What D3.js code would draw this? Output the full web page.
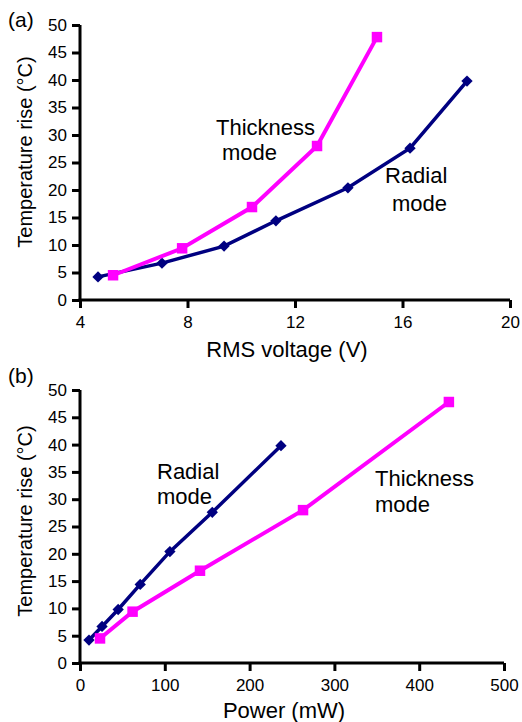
<!DOCTYPE html>
<html>
<head>
<meta charset="utf-8">
<script src="https://cdn.jsdelivr.net/npm/d3@7"></script>
<style>
  body { margin: 0; background: #fff; }
  svg text { font-family: "Liberation Sans", Arial, sans-serif; fill: #000; }
</style>
</head>
<body>
<div id="chart"></div>
<script>
// panel (a): temperature rise vs RMS voltage
const voltRadial = [4.67, 7.05, 9.36, 11.29, 13.97, 16.28, 18.4];
const tempRadial = [4.2, 6.7, 9.8, 14.4, 20.4, 27.6, 39.8];
const voltThick = [5.23, 7.8, 10.4, 12.82, 15.05];
const tempThick = [4.5, 9.4, 16.9, 28.0, 47.8];

// panel (b): temperature rise vs power
const powerRadial = [10.6, 26, 45, 71, 106, 156, 237];
const powerThick = [23.6, 62, 141.5, 263, 435];

const yTicks = [0, 5, 10, 15, 20, 25, 30, 35, 40, 45, 50];
const voltTicks = [4, 8, 12, 16, 20];
const powerTicks = [0, 100, 200, 300, 400, 500];

const navy = '#000080';
const magenta = '#ff00ff';

const svg = d3.select('#chart')
  .append('svg')
  .attr('width', 522)
  .attr('height', 722);

function panel(opts) {
  const x = d3.scaleLinear().domain(opts.xDomain).range([80, opts.xRight]);
  const y = d3.scaleLinear().domain([0, 50]).range([opts.yBottom, opts.yTop]);
  const g = svg.append('g');

  // axes
  const yAxis = g.append('g')
    .attr('transform', 'translate(80,0)')
    .call(d3.axisLeft(y).tickValues(yTicks).tickSize(8).tickPadding(5).tickSizeOuter(0));
  const xAxis = g.append('g')
    .attr('transform', `translate(0,${opts.yBottom})`)
    .call(d3.axisBottom(x).tickValues(opts.xTicks).tickSize(8).tickPadding(8).tickSizeOuter(0));
  [yAxis, xAxis].forEach(a => {
    a.select('.domain').attr('stroke', '#000').attr('stroke-width', 3);
    a.selectAll('.tick line').attr('stroke', '#000').attr('stroke-width', 3);
    a.selectAll('.tick text').style('font-size', '17px').attr('fill', '#000');
  });
  // extend axis lines so they meet at the corner
  yAxis.select('.domain').attr('d', `M0,${opts.yBottom + 1.5}V${opts.yTop}`);
  xAxis.select('.domain').attr('d', `M${80 - 1.5},0H${opts.xRight}`);

  const line = d3.line().x(d => x(d[0])).y(d => y(d[1]));

  opts.series.forEach(s => {
    const pts = s.xs.map((v, i) => [v, s.ys[i]]);
    g.append('path')
      .datum(pts)
      .attr('fill', 'none')
      .attr('stroke', s.color)
      .attr('stroke-width', s.width)
      .attr('d', line);
    g.selectAll(null)
      .data(pts)
      .enter().append('path')
      .attr('fill', s.color)
      .attr('d', d3.symbol().type(d3.symbolSquare).size(s.size))
      .attr('transform', d => `translate(${x(d[0])},${y(d[1])}) rotate(${s.rot})`);
  });

  // axis titles
  g.append('text')
    .attr('x', opts.xTitleX)
    .attr('y', opts.xTitleY)
    .attr('text-anchor', 'middle')
    .style('font-size', '22px')
    .text(opts.xTitle);
  g.append('text')
    .attr('transform', `translate(32,${opts.yTitleY}) rotate(-90)`)
    .attr('text-anchor', 'middle')
    .style('font-size', '20px')
    .text('Temperature rise (°C)');

  // panel letter
  g.append('text')
    .attr('x', 8)
    .attr('y', opts.letterY)
    .style('font-size', '21px')
    .text(opts.letter);

  // curve labels
  opts.labels.forEach(l => {
    g.append('text')
      .attr('x', l.x)
      .attr('y', l.y)
      .style('font-size', '22px')
      .text(l.text);
  });
}

panel({
  xDomain: [4, 20], xRight: 510, yTop: 25, yBottom: 300,
  xTicks: voltTicks, xTitle: 'RMS voltage (V)', xTitleX: 287, xTitleY: 357,
  yTitleY: 152, letter: '(a)', letterY: 27,
  series: [
    { xs: voltRadial, ys: tempRadial, color: navy, width: 3.5, size: 64, rot: 45 },
    { xs: voltThick, ys: tempThick, color: magenta, width: 4, size: 110, rot: 0 }
  ],
  labels: [
    { text: 'Thickness', x: 216, y: 135 },
    { text: 'mode', x: 222, y: 160 },
    { text: 'Radial', x: 385, y: 183 },
    { text: 'mode', x: 392, y: 211 }
  ]
});

panel({
  xDomain: [0, 500], xRight: 504, yTop: 390, yBottom: 663,
  xTicks: powerTicks, xTitle: 'Power (mW)', xTitleX: 284, xTitleY: 718,
  yTitleY: 521, letter: '(b)', letterY: 383,
  series: [
    { xs: powerRadial, ys: tempRadial, color: navy, width: 3.5, size: 64, rot: 45 },
    { xs: powerThick, ys: tempThick, color: magenta, width: 4, size: 110, rot: 0 }
  ],
  labels: [
    { text: 'Radial', x: 157, y: 479 },
    { text: 'mode', x: 157, y: 504 },
    { text: 'Thickness', x: 375, y: 486 },
    { text: 'mode', x: 375, y: 512 }
  ]
});
</script>
</body>
</html>
